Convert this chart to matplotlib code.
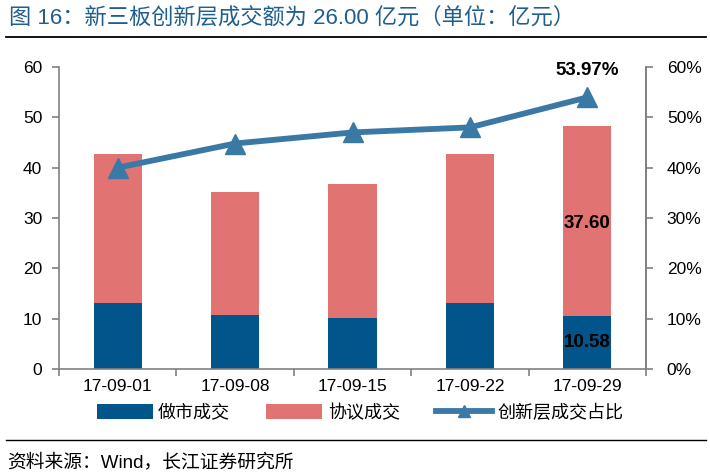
import matplotlib
matplotlib.use('Agg')
import matplotlib.pyplot as plt
import numpy as np

plt.rcParams['font.family'] = ['Liberation Sans', 'Noto Sans CJK SC', 'DejaVu Sans']

dates = ['17-09-01', '17-09-08', '17-09-15', '17-09-22', '17-09-29']
market_making = [13.1, 10.7, 10.2, 13.1, 10.58]
agreement = [29.6, 24.5, 26.5, 29.6, 37.60]
ratio = [40.0, 44.8, 47.0, 48.0, 53.97]

c_blue = '#02558B'
c_red = '#E27373'
c_line = '#3A79A6'
c_title = '#1F5E8E'
c_axis = '#808080'

fig = plt.figure(figsize=(7.1, 4.76), dpi=100)
ax = fig.add_axes([59 / 710, 1 - 369 / 476, 587 / 710, 302 / 476])
x = np.arange(len(dates))
w = 0.41
ax.bar(x, market_making, w, color=c_blue, label='做市成交', zorder=2)
ax.bar(x, agreement, w, bottom=market_making, color=c_red, label='协议成交', zorder=2)
ax.set_ylim(0, 60)
ax.set_xlim(-0.5, len(dates) - 0.5)
ax.set_yticks(range(0, 61, 10))
ax.set_xticks(x)
ax.set_xticklabels(dates)
ax.set_xticks(np.arange(-0.5, len(dates)), minor=True)
ax.tick_params(axis='x', which='major', length=0, pad=7, labelsize=12.5)
ax.tick_params(axis='x', which='minor', length=5, direction='out', color=c_axis, width=1.2)
ax.tick_params(axis='y', direction='out', length=5, color=c_axis, width=1.2,
               labelsize=12.5, pad=7)
ax.spines['top'].set_visible(False)
for s in ['left', 'right', 'bottom']:
    ax.spines[s].set_color(c_axis)
    ax.spines[s].set_linewidth(1.2)

ax2 = ax.twinx()
ax2.plot(x, ratio, color=c_line, lw=4.2, marker='^', ms=14, label='创新层成交占比', zorder=3)
ax2.set_ylim(0, 60)
ax2.set_yticks(range(0, 61, 10))
ax2.set_yticklabels([f'{v}%' for v in range(0, 61, 10)])
ax2.tick_params(axis='y', direction='out', length=5, color=c_axis, width=1.2,
                labelsize=12.5, pad=10)
ax2.spines['top'].set_visible(False)
ax2.spines['right'].set_color(c_axis)
ax2.spines['right'].set_linewidth(1.2)
ax2.spines['left'].set_visible(False)
ax2.spines['bottom'].set_visible(False)

ax2.text(x[-1], ratio[-1] + 5.3, f'{ratio[-1]:.2f}%', ha='center', va='center',
         fontsize=13.5, fontweight='bold')
ax.text(x[-1], market_making[-1] + agreement[-1] / 2 - 0.4, f'{agreement[-1]:.2f}',
        ha='center', va='center', fontsize=13.5, fontweight='bold')
ax.text(x[-1], market_making[-1] / 2 - 0.1, f'{market_making[-1]:.2f}',
        ha='center', va='center', fontsize=13.5, fontweight='bold')

h1, l1 = ax.get_legend_handles_labels()
h2, l2 = ax2.get_legend_handles_labels()
fig.legend(h1 + h2, l1 + l2, loc='center', bbox_to_anchor=(0.507, 0.132), ncol=3,
           frameon=False, fontsize=13, handlelength=3.1, handleheight=0.9,
           columnspacing=2.0, handletextpad=0.3, markerscale=0.6)

fig.text(0.012, 0.962, '图 16：新三板创新层成交额为 26.00 亿元（单位：亿元）',
         color=c_title, fontsize=16, va='center', ha='left')
fig.add_artist(plt.Line2D([0.008, 0.995], [0.922, 0.922], color='black', lw=1.3))
fig.add_artist(plt.Line2D([0.008, 0.995], [0.076, 0.076], color='black', lw=1))
fig.text(0.010, 0.029, '资料来源：Wind，长江证券研究所', fontsize=13.5, va='center', ha='left')

plt.savefig('out.png', dpi=100)
